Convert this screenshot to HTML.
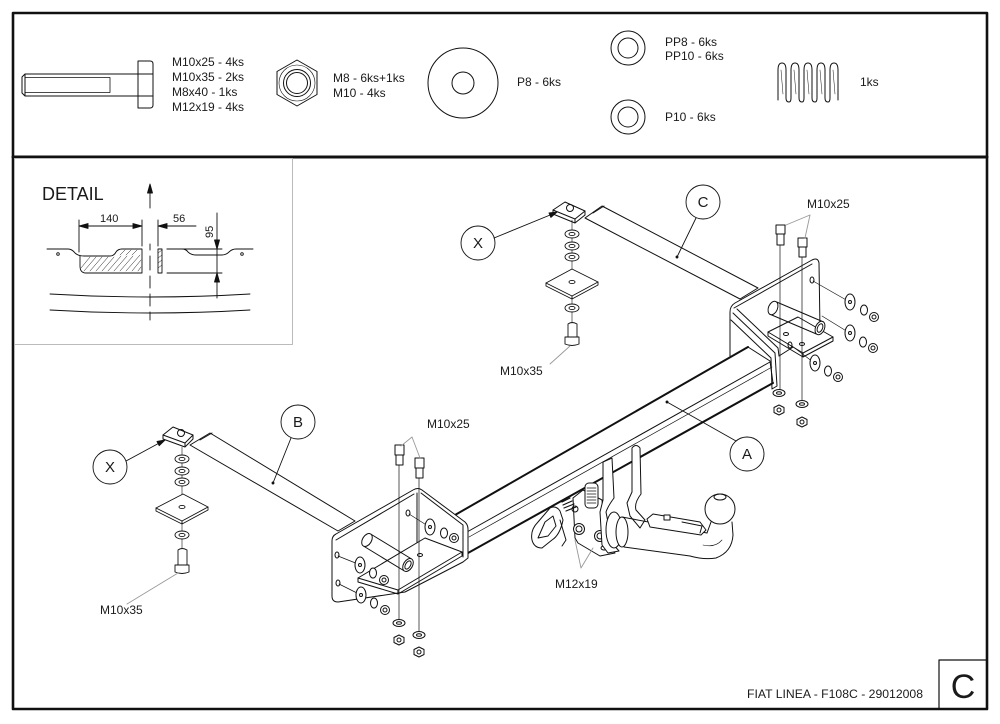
<!DOCTYPE html>
<html><head><meta charset="utf-8">
<style>
html,body{margin:0;padding:0;background:#fff;}
svg{display:block;}
text{font-family:"Liberation Sans",sans-serif;fill:#1a1a1a;}
</style></head><body>
<svg width="1000" height="724" viewBox="0 0 1000 724" xmlns="http://www.w3.org/2000/svg">
<rect width="1000" height="724" fill="#fff"/>
<g fill="none" stroke="#111" stroke-width="1" stroke-linejoin="round" stroke-linecap="round">
<!-- frame -->
<rect x="13" y="13" width="974" height="696" stroke-width="2.6"/>
<line x1="13" y1="157" x2="987" y2="157" stroke-width="3"/>
<rect x="14.5" y="158.5" width="278" height="186" stroke="#bbb"/>
<rect x="939" y="660" width="48" height="49" stroke-width="1.2"/>

<!-- top: bolt -->
<path d="M22,77 L25,74 L138,74 M22,77 L22,93 L25,96 L138,96 M25,74 V96"/>
<path d="M25,77.5 H110 M25,92.5 H110 M110,77.5 V92.5" stroke-width="0.8"/>
<path d="M138,61 H150 Q153,61 153,64 V105 Q153,108 150,108 H138 Z M138,74 H153 M138,96 H153"/>
<!-- nut -->
<polygon points="297,60 317,71.5 317,94.5 297,106 277,94.5 277,71.5"/>
<circle cx="297" cy="83" r="18" stroke-width="0.6"/>
<circle cx="297" cy="83" r="13.5"/>
<circle cx="297" cy="83" r="10.5"/>
<!-- washers -->
<circle cx="463" cy="83" r="35"/>
<circle cx="463" cy="83" r="11"/>
<circle cx="628" cy="48" r="17"/>
<circle cx="628" cy="48" r="10"/>
<circle cx="628" cy="117" r="17"/>
<circle cx="628" cy="117" r="10"/>
<!-- spring -->
<g stroke-width="1">
<path d="M778,100 V70 Q778,63 782,63 Q786,63 786,70 V98 Q786,102 789,102 Q791,102 791,98 V70 Q791,63 795,63 Q799,63 799,70 V98 Q799,102 802,102 Q804,102 804,98 V70 Q804,63 808,63 Q812,63 812,70 V98 Q812,102 815,102 Q817,102 817,98 V70 Q817,63 821,63 Q825,63 825,70 V98 Q825,102 828,102 Q830,102 830,98 V70 Q830,63 834,63 Q838,63 838,70 V100"/>
<path d="M781,70 L783,94 M794,70 L796,94 M807,70 L809,94 M820,70 L822,94 M833,70 L835,94" stroke-width="0.5"/>
</g>

<!-- DETAIL -->
<g stroke-width="0.9">
<path d="M150,208 V186" />
<path d="M147.5,193 L150,184 L152.5,193 Z" fill="#111"/>
<path d="M79,220 V252 M142,220 V246 M158,220 V246"/>
<path d="M79,226 H142 M158,226 H196"/>
<path d="M79,226 l9,-2.5 v5 Z M142,226 l-9,-2.5 v5 Z M158,226 l9,-2.5 v5 Z" fill="#111"/>
<path d="M217,213 V298 M167,249 H222 M167,273 H222"/>
<path d="M217,249 l-2.5,-9 h5 Z M217,273 l-2.5,9 h5 Z" fill="#111"/>
<path d="M47,249 H68 Q72,249 75,253 Q78,256 84,256 H110 Q114,256 116,252 Q118,249 122,249 H142 V273 H86 Q80,273 80,266 V256"/>
<path d="M167,249 H182 Q186,249 188,252 Q191,255 196,255 H222 Q226,255 229,252 Q232,249 236,249 H253"/>
<circle cx="58" cy="254" r="1.3"/>
<circle cx="242" cy="254" r="1.3"/>
<rect x="158" y="249" width="4" height="24"/>
<path d="M150,244 V250 M150,256 V270 M150,276 V288 M150,294 V306 M150,312 V320"/>
<path d="M50,294 Q150,300 250,294 M50,310 Q150,316 250,310"/>
</g>
<g stroke-width="0.5">
<path d="M84,271 L96,257 M90,271 L102,257 M96,271 L108,257 M102,271 L114,257 M108,271 L121,256 M114,271 L127,256 M120,271 L133,256 M126,271 L140,255 M132,271 L141,260 M81,268 L90,257 M138,271 L141,267 M120,255 L125,250 M126,255 L131,250 M132,255 L137,250"/>
<path d="M158,253 L162,250 M158,258 L162,255 M158,263 L162,260 M158,268 L162,265"/>
</g>

<!-- BAR B -->
<path d="M190,445 L210,433 L355,521 L338,531 Z"/>
<path d="M200,440 L212,433"/>
<!-- BAR C -->
<path d="M585,218 L602,206 L758,288 L740,299 Z"/>
<path d="M593,213 L604,206"/>

<!-- BEAM A -->
<path d="M455,515 L748,347" stroke-width="2"/>
<path d="M467,532 L770,362"/>
<path d="M469,537 L772,367" stroke-width="0.7"/>
<path d="M468,553 L773,383" stroke-width="2"/>
<path d="M748,347 L770,361 L773,383"/>

<!-- X bracket left -->
<path d="M163,435 L173,427 L193,435 L185,443 Z"/>
<path d="M163,435 L163,439 L185,447 L185,443 M185,447 L193,439 L193,435"/>
<circle cx="181" cy="433" r="3.5"/>
<!-- X bracket right -->
<path d="M553,210 L565,202 L585,211 L575,219 Z"/>
<path d="M553,210 L553,214 L575,223 L575,219 M575,223 L585,215 L585,211"/>
<circle cx="570" cy="208" r="3.5"/>

<!-- left stack -->
<g stroke-width="0.9">
<path d="M182,447 V548" stroke-width="0.6"/>
<ellipse cx="182" cy="459" rx="7" ry="4" fill="#fff"/><ellipse cx="182" cy="459" rx="3" ry="1.6"/>
<ellipse cx="182" cy="471" rx="7" ry="4" fill="#fff"/><ellipse cx="182" cy="471" rx="3" ry="1.6"/>
<ellipse cx="182" cy="482" rx="7" ry="4" fill="#fff"/><ellipse cx="182" cy="482" rx="3" ry="1.6"/>
<path d="M156,508 L183,494 L208,507 L182,521 Z" fill="#fff"/>
<path d="M156,508 V511 L182,524 L208,510 V507 M182,521 V524"/>
<ellipse cx="182" cy="507" rx="3" ry="1.6"/>
<ellipse cx="182" cy="535" rx="7" ry="4" fill="#fff"/><ellipse cx="182" cy="535" rx="3" ry="1.6"/>
<path d="M178,565 V550 Q182,547 187,550 V565"/>
<path d="M175,565 H189 V572 Q182,575 175,572 Z"/>
</g>
<!-- right stack -->
<g stroke-width="0.9">
<path d="M572,220 V323" stroke-width="0.6"/>
<ellipse cx="572" cy="234" rx="7" ry="4" fill="#fff"/><ellipse cx="572" cy="234" rx="3" ry="1.6"/>
<ellipse cx="572" cy="246" rx="7" ry="4" fill="#fff"/><ellipse cx="572" cy="246" rx="3" ry="1.6"/>
<ellipse cx="572" cy="257" rx="7" ry="4" fill="#fff"/><ellipse cx="572" cy="257" rx="3" ry="1.6"/>
<path d="M546,283 L572,269 L598,282 L572,296 Z" fill="#fff"/>
<path d="M546,283 V286 L572,299 L598,285 V282 M572,296 V299"/>
<ellipse cx="572" cy="282" rx="3" ry="1.6"/>
<ellipse cx="572" cy="308" rx="7" ry="4" fill="#fff"/><ellipse cx="572" cy="308" rx="3" ry="1.6"/>
<path d="M568,337 V324 Q572,321 577,324 V337"/>
<path d="M565,337 H579 V344 Q572,347 565,344 Z"/>
</g>

<!-- RIGHT BRACKET -->
<g stroke-width="1">
<path d="M730,312 Q730,306 735,303 L812,260 Q818,257 819,263 L820,330 L779,356 M730,312 V356" fill="none"/>
<path d="M734,308 L812,264"/>
<path d="M733,313 L775,353 L777,386 L772,389 L771,358 L731,320"/>
<path d="M737,309 L778,348 L779,356"/>
<path d="M768,332 L798,317 L833,337 L803,353 Z" fill="#fff"/>
<path d="M768,332 V336 L803,357 L833,341 V337 M803,353 V357"/>
<ellipse cx="786" cy="334" rx="2.5" ry="1.5"/>
<ellipse cx="802" cy="344" rx="2.5" ry="1.5"/>
<path d="M769.4,314 L816.4,334 M776.6,302 L823.6,322" />
<ellipse cx="773" cy="308" rx="4.5" ry="7" transform="rotate(23 773 308)" fill="#fff"/>
<ellipse cx="820" cy="328" rx="4.5" ry="7" transform="rotate(23 820 328)" fill="#fff"/>
<ellipse cx="820" cy="328" rx="2.5" ry="4.5" transform="rotate(23 820 328)"/>
<ellipse cx="812" cy="280" rx="2" ry="3"/>
<ellipse cx="790" cy="345" rx="2" ry="3"/>
<!-- washers right rows -->
<path d="M813,281 L848,301 M822,316 L848,332 M792,346 L813,362" stroke-width="0.7"/>
<ellipse cx="850" cy="302" rx="5" ry="8" fill="#fff"/><circle cx="850" cy="302" r="1.5"/>
<ellipse cx="864" cy="310" rx="3.5" ry="5" fill="#fff"/>
<circle cx="874" cy="317" r="4.5" fill="#fff"/><circle cx="874" cy="317" r="2"/>
<ellipse cx="850" cy="333" rx="5" ry="8" fill="#fff"/><circle cx="850" cy="333" r="1.5"/>
<ellipse cx="863" cy="342" rx="3.5" ry="5" fill="#fff"/>
<circle cx="873" cy="348" r="4.5" fill="#fff"/><circle cx="873" cy="348" r="2"/>
<ellipse cx="815" cy="363" rx="5" ry="8" fill="#fff"/><circle cx="815" cy="363" r="1.5"/>
<ellipse cx="828" cy="371" rx="3.5" ry="5" fill="#fff"/>
<circle cx="838" cy="377" r="4.5" fill="#fff"/><circle cx="838" cy="377" r="2"/>
<!-- bolts right -->
<path d="M780,245 V390 M802,257 V400" stroke-width="0.7"/>
<path d="M776,225 H785 V234 H776 Z M777,234 V245 H784 V234" fill="#fff"/>
<path d="M798,238 H807 V247 H798 Z M799,247 V257 H806 V247" fill="#fff"/>
<ellipse cx="779" cy="393" rx="6" ry="3.5" fill="#fff"/><ellipse cx="779" cy="393" rx="2.5" ry="1.3"/>
<polygon points="779,405 784,407.5 784,412.5 779,415 774,412.5 774,407.5" fill="#fff"/><circle cx="779" cy="410" r="2"/>
<ellipse cx="802" cy="404" rx="6" ry="3.5" fill="#fff"/><ellipse cx="802" cy="404" rx="2.5" ry="1.3"/>
<polygon points="802,417 807,419.5 807,424.5 802,427 797,424.5 797,419.5" fill="#fff"/><circle cx="802" cy="422" r="2"/>
</g>

<!-- LEFT BRACKET -->
<g stroke-width="1">
<path d="M332,541 Q332,536 336,534 L413,490 Q418,487 422,490 L465,522 Q468,525 468,529 L468,558 L463,562 L405,592 L338,602 Q332,602 332,596 Z" fill="#fff"/>
<path d="M336,540 L414,494 M417,493 V545 M421,493 L463,525 V557"/>
<path d="M358,578 L425,538 L462,552 L398,590 Z" fill="#fff"/>
<path d="M358,578 V582 L398,594 L462,556 V552 M398,590 V594"/>
<ellipse cx="420" cy="555" rx="2.5" ry="1.5"/>
<path d="M363.4,546 L404.4,571 M370.6,534 L411.6,559"/>
<ellipse cx="367" cy="540" rx="4.5" ry="7" transform="rotate(31 367 540)" fill="#fff"/>
<ellipse cx="408" cy="565" rx="4.5" ry="7" transform="rotate(31 408 565)" fill="#fff"/>
<ellipse cx="408" cy="565" rx="2.5" ry="4.5" transform="rotate(31 408 565)"/>
<ellipse cx="408" cy="513" rx="2" ry="3"/>
<ellipse cx="337" cy="555" rx="2" ry="3"/>
<ellipse cx="338" cy="583" rx="2" ry="3"/>
<path d="M409,514 L428,526 M338,556 L358,564 M339,584 L359,594" stroke-width="0.7"/>
<ellipse cx="430" cy="527" rx="5" ry="8" fill="#fff"/><circle cx="430" cy="527" r="1.5"/>
<ellipse cx="444" cy="533" rx="3.5" ry="5" fill="#fff"/>
<circle cx="454" cy="538" r="4.5" fill="#fff"/><circle cx="454" cy="538" r="2"/>
<ellipse cx="360" cy="565" rx="5" ry="8" fill="#fff"/><circle cx="360" cy="565" r="1.5"/>
<ellipse cx="373" cy="573" rx="3.5" ry="5" fill="#fff"/>
<circle cx="384" cy="580" r="4.5" fill="#fff"/><circle cx="384" cy="580" r="2"/>
<ellipse cx="361" cy="595" rx="5" ry="8" fill="#fff"/><circle cx="361" cy="595" r="1.5"/>
<ellipse cx="374" cy="603" rx="3.5" ry="5" fill="#fff"/>
<circle cx="385" cy="610" r="4.5" fill="#fff"/><circle cx="385" cy="610" r="2"/>
<!-- bolts left -->
<path d="M399,465 V620 M419,478 V632" stroke-width="0.7"/>
<path d="M395,445 H404 V455 H395 Z M396,455 V465 H403 V455" fill="#fff"/>
<path d="M415,458 H424 V468 H415 Z M416,468 V478 H423 V468" fill="#fff"/>
<ellipse cx="399" cy="623" rx="6" ry="3.5" fill="#fff"/><ellipse cx="399" cy="623" rx="2.5" ry="1.3"/>
<polygon points="399,635 404,637.5 404,642.5 399,645 394,642.5 394,637.5" fill="#fff"/><circle cx="399" cy="640" r="2"/>
<ellipse cx="419" cy="635" rx="6" ry="3.5" fill="#fff"/><ellipse cx="419" cy="635" rx="2.5" ry="1.3"/>
<polygon points="419,647 424,649.5 424,654.5 419,657 414,654.5 414,649.5" fill="#fff"/><circle cx="419" cy="652" r="2"/>
</g>

<!-- HITCH -->
<g stroke-width="1">
<path d="M573,498 L583,490 L602,500 L606,545 L615,553 L600,556 L578,543 L575,538 Z" fill="#fff"/>
<circle cx="579" cy="529" r="5.5" fill="#fff"/><circle cx="579" cy="529" r="3"/>
<circle cx="600" cy="536" r="5.5" fill="#fff"/><circle cx="600" cy="536" r="3"/>
<ellipse cx="604" cy="548" rx="3" ry="2"/>
<rect x="585" y="483" width="13" height="25" rx="4" fill="#fff"/>
<path d="M587,488 H596 M587,491 H596 M587,494 H596 M587,497 H596 M587,500 H596 M587,503 H596" stroke-width="0.7"/>
<path d="M562,502 L570,498 M563,505 L572,501 M564,508 L574,504 M566,511 L576,507" stroke-width="1.2"/>
<circle cx="575" cy="509" r="3"/>
<path d="M532,540 Q530,530 538,522 L550,508 Q556,505 560,511 L563,520 Q560,535 552,540 L542,548 Q534,548 532,540 Z" fill="#fff"/>
<path d="M538,538 L545,522 L553,516 L556,526 L548,536 Z"/>
<path d="M560,520 L566,540 L562,546"/>
<path d="M603,462 L612,458 L614,498 Q608,506 606,512 L612,543 L619,551 L608,553 L602,545 L600,512 L603,500 Z" fill="#fff"/>
<path d="M632,448 Q636,443 640,448 L641,494 Q634,503 636,510 L645,520 L640,528 L630,516 L627,503 L632,492 Z" fill="#fff"/>
<ellipse cx="614" cy="530" rx="8" ry="18" fill="#fff"/>
<ellipse cx="622" cy="532" rx="6" ry="15" fill="#fff"/>
<path d="M622,517 L707,533 M624,547 L690,556"/>
<path d="M647,519 L653,514 L700,522 L706,530 L701,535 L650,527 Z" fill="#fff"/>
<path d="M682,522 L702,526 L700,533"/>
<rect x="664" y="515" width="6" height="5" fill="#fff"/>
<path d="M690,556 Q704,560 716,558 Q732,552 733,535 L732,522 M707,533 L711,522" fill="none"/>
<path d="M703,545 Q715,548 722,540" stroke-width="0.6"/>
<circle cx="720" cy="509" r="15" fill="#fff"/>
<ellipse cx="720" cy="497" rx="6" ry="3"/>
</g>

<!-- leaders -->
<g stroke-width="0.9">
<circle cx="110" cy="467" r="17"/>
<path d="M126,461 L163,441"/>
<path d="M165,440 l-8,1.5 l2.2,4.2 Z" fill="#111"/>
<circle cx="298" cy="422" r="17"/>
<path d="M291,438 L273,483"/>
<circle cx="273" cy="483" r="1" fill="#111"/>
<circle cx="478" cy="243" r="17"/>
<path d="M494,238 L555,213"/>
<path d="M557,212 l-8,1 l1.9,4.4 Z" fill="#111"/>
<circle cx="703" cy="202" r="17"/>
<path d="M696,218 L677,257"/>
<circle cx="677" cy="257" r="1" fill="#111"/>
<circle cx="747" cy="454" r="17"/>
<path d="M736,441 L667,402"/>
<circle cx="667" cy="402" r="1" fill="#111"/>
</g>
<g stroke="#999" stroke-width="0.9">
<path d="M127,604 L178,573"/>
<path d="M550,364 L570,346"/>
<path d="M412,437 L401,446 M412,437 L420,458"/>
<path d="M810,215 L786,225 M810,215 L805,238"/>
<path d="M581,568 L575,540 M581,568 L593,548"/>
</g>
</g>

<!-- TEXT -->
<g font-size="12">
<text x="172" y="66">M10x25 - 4ks</text>
<text x="172" y="81">M10x35 - 2ks</text>
<text x="172" y="96">M8x40 - 1ks</text>
<text x="172" y="111">M12x19 - 4ks</text>
<text x="333" y="82">M8 - 6ks+1ks</text>
<text x="333" y="97">M10 - 4ks</text>
<text x="517" y="86">P8 - 6ks</text>
<text x="665" y="46">PP8 - 6ks</text>
<text x="665" y="60">PP10 - 6ks</text>
<text x="665" y="121">P10 - 6ks</text>
<text x="860" y="86">1ks</text>
<text x="807" y="208">M10x25</text>
<text x="500" y="375">M10x35</text>
<text x="427" y="428">M10x25</text>
<text x="100" y="614">M10x35</text>
<text x="555" y="588">M12x19</text>
</g>
<g font-size="15" text-anchor="middle">
<text x="110" y="472">X</text>
<text x="298" y="427">B</text>
<text x="478" y="248">X</text>
<text x="703" y="207">C</text>
<text x="747" y="459">A</text>
</g>
<text x="42" y="200" font-size="18">DETAIL</text>
<g font-size="11">
<text x="100" y="222">140</text>
<text x="173" y="222">56</text>
<text x="0" y="0" transform="translate(213,238) rotate(-90)">95</text>
</g>
<text x="747" y="698" font-size="11.5" textLength="176" lengthAdjust="spacingAndGlyphs">FIAT LINEA - F108C - 29012008</text>
<text x="963" y="698" font-size="34" text-anchor="middle">C</text>
</svg>
</body></html>
